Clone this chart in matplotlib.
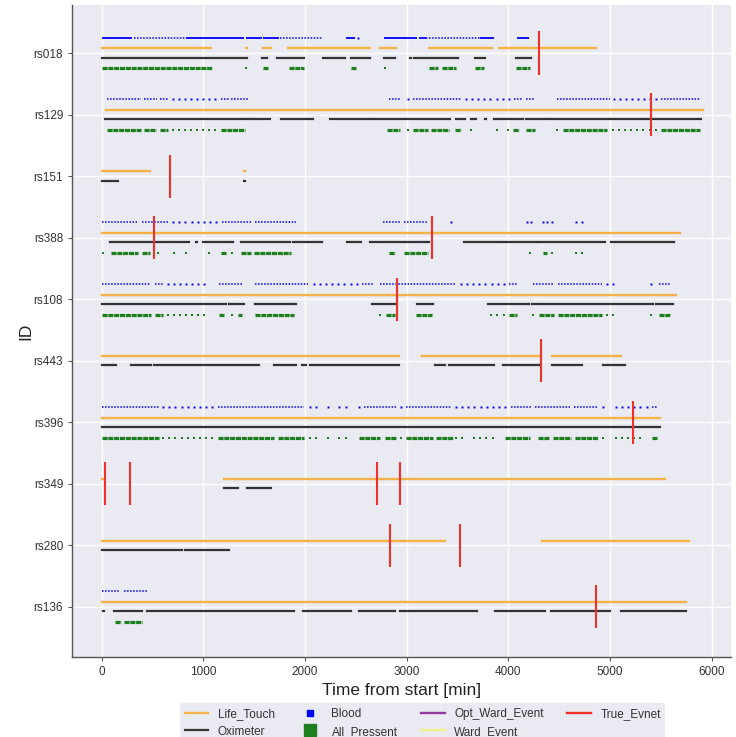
import matplotlib
matplotlib.use("Agg")
import matplotlib.pyplot as plt
from matplotlib.lines import Line2D

plt.rcParams['font.family'] = ['Liberation Sans', 'DejaVu Sans']

# pacientes, de arriba hacia abajo
patients = ['rs018', 'rs129', 'rs151', 'rs388', 'rs108',
            'rs443', 'rs396', 'rs349', 'rs280', 'rs136']

# intervalos [min] de cada fuente
life_touch = {
    'rs018': [(0, 1075), (1420, 1430), (1583, 1668), (1829, 2640), (2742, 2890), (3215, 3835), (3907, 4858)],
    'rs129': [(40, 5910)],
    'rs151': [(0, 473), (1398, 1406)],
    'rs388': [(0, 5690)],
    'rs108': [(0, 5650)],
    'rs443': [(0, 2920), (3149, 4313), (4429, 5112)],
    'rs396': [(0, 5495)],
    'rs349': [(0, 20), (1202, 5537)],
    'rs280': [(0, 3379), (4326, 5778)],
    'rs136': [(0, 5745)],
}

oximeter = {
    'rs018': [(0, 1432), (1573, 1625), (1721, 1993), (2181, 2397), (2450, 2640), (2781, 2888),
              (3036, 3040), (3076, 3505), (3673, 3769), (4073, 4221)],
    'rs129': [(33, 1402), (1422, 1501), (1510, 1658), (1764, 2075), (2250, 2690), (2706, 3429),
              (3482, 3571), (3630, 3680), (3770, 3775), (3861, 4148), (4175, 4370), (4386, 5897)],
    'rs151': [(0, 164), (1398, 1406)],
    'rs388': [(10, 16), (79, 499), (516, 604), (621, 762), (778, 854), (930, 936), (998, 1133),
              (1149, 1248), (1264, 1287), (1318, 1322), (1341, 1345), (1369, 1855), (1878, 2167),
              (2410, 2552), (2634, 2755), (2781, 3224), (3564, 3940), (3950, 4280), (4290, 4947),
              (5013, 5627)],
    'rs108': [(0, 1222), (1255, 1304), (1314, 1396), (1511, 1829), (1839, 1911), (2550, 2555),
              (2660, 2897), (3100, 3257), (3795, 4205), (4231, 4274), (4287, 5419), (5452, 5617)],
    'rs443': [(0, 138), (292, 489), (516, 1543), (1691, 1911), (1967, 2010), (2049, 2920),
              (3130, 3134), (3189, 3193), (3239, 3243), (3274, 3380), (3416, 3861), (3950, 4313),
              (4429, 4726), (4889, 4893), (4931, 5145)],
    'rs396': [(0, 5495)],
    'rs349': [(1202, 1345), (1428, 1664)],
    'rs280': [(0, 790), (823, 1248), (1320, 1325)],
    'rs136': [(10, 18), (120, 393), (444, 1895), (1978, 2454), (2528, 2889), (2935, 3688),
              (3873, 4145), (4165, 4360), (4415, 4997), (5104, 5615), (5632, 5745)],
}

# Blood: tramos densos, tramos punteados y muestras sueltas
blood_dense = {
    'rs018': [(0, 300), (828, 1402), (1419, 1576), (1590, 1740), (2404, 2493), (2781, 3099),
              (3125, 3185), (3720, 3861), (4089, 4205)],
}

blood_dotted = {
    'rs018': [(318, 828), (1754, 2164), (3191, 3720)],
    'rs129': [(56, 384), (417, 548), (575, 657), (1176, 1254), (1271, 1435), (2821, 2946),
              (3059, 3531), (4059, 4132), (4175, 4257), (4478, 5000), (5502, 5889)],
    'rs388': [(7, 342), (394, 657), (1182, 1475), (1507, 1911), (2765, 2930), (2975, 3208)],
    'rs108': [(0, 483), (522, 598), (1149, 1379), (1507, 2026), (2562, 2667), (2742, 3472),
              (4010, 4082), (4247, 4452), (4485, 4924), (5478, 5594)],
    'rs396': [(0, 565), (1140, 1993), (2575, 2897), (2995, 3439), (4023, 4221), (4264, 4610),
              (4650, 4874), (5409, 5462)],
    'rs136': [(0, 180), (222, 444)],
}

blood_points = {
    'rs018': [2519],
    'rs129': [696, 755, 818, 877, 936, 998, 1057, 1117, 3011, 3581, 3640, 3703, 3762, 3822,
              3884, 3944, 4007, 5039, 5099, 5158, 5218, 5277, 5337, 5396, 5456],
    'rs388': [703, 762, 821, 883, 943, 1002, 1064, 1123, 3432, 4181, 4224, 4340, 4379, 4429,
              4667, 4726],
    'rs108': [647, 706, 768, 828, 887, 949, 1008, 2085, 2148, 2207, 2266, 2328, 2387, 2447,
              2509, 3531, 3591, 3653, 3713, 3772, 3835, 3894, 3957, 4973, 5033, 5402],
    'rs396': [604, 663, 722, 785, 844, 903, 966, 1025, 1084, 2049, 2108, 2223, 2338, 2404,
              2529, 2946, 3488, 3548, 3604, 3663, 3726, 3785, 3845, 3908, 3967, 4931, 5056,
              5115, 5178, 5237, 5297, 5360],
}

# All_Pressent: tramos y muestras sueltas
all_present = {
    'rs018': [(0, 1080), (1583, 1632), (1839, 1993), (2455, 2505), (3224, 3307), (3343, 3488),
              (3676, 3762), (4079, 4214)],
    'rs129': [(56, 384), (417, 532), (575, 654), (1172, 1409), (2808, 2929), (3059, 3208),
              (3241, 3416), (3479, 3531), (4049, 4105), (4175, 4264), (4534, 4973), (5502, 5889)],
    'rs388': [(95, 358), (400, 473), (1172, 1222), (1369, 1468), (1501, 1862), (2821, 2880),
              (2972, 3208), (4340, 4379)],
    'rs108': [(0, 483), (522, 598), (1149, 1199), (1337, 1379), (1507, 1895), (2798, 2880),
              (3092, 3248), (4010, 4082), (4297, 4452), (4485, 4924), (5478, 5594)],
    'rs396': [(0, 565), (1140, 1698), (1731, 1993), (2529, 2742), (2788, 2890), (2995, 3257),
              (3290, 3455), (3967, 4214), (4290, 4396), (4439, 4617), (4653, 4881), (5409, 5462)],
    'rs136': [(129, 185), (217, 393)],
}

all_present_points = {
    'rs018': [1419, 2785],
    'rs129': [696, 755, 818, 877, 936, 998, 1057, 1117, 3011, 3637, 3884, 4000, 4478, 5029,
              5089, 5148, 5210, 5270, 5329, 5390, 5451],
    'rs388': [13, 555, 706, 828, 1057, 1281, 4214, 4429, 4667, 4726],
    'rs108': [647, 706, 768, 828, 887, 949, 1008, 1281, 2742, 3825, 3891, 3957, 4247, 4973,
              5033, 5402],
    'rs396': [604, 663, 722, 785, 844, 903, 966, 1025, 1084, 2049, 2108, 2223, 2338, 2404,
              2946, 3488, 3548, 3660, 3719, 3779, 3845, 4931, 5056, 5115, 5178, 5237, 5297],
}

true_events = {
    'rs018': [4300], 'rs129': [5402], 'rs151': [676], 'rs388': [516, 3248],
    'rs108': [2903], 'rs443': [4320], 'rs396': [5224], 'rs349': [28, 273, 2704, 2935],
    'rs280': [2833, 3527], 'rs136': [4860],
}

c_lt = '#F5B247'
c_oxi = '#333333'
c_blood = '#0000FF'
c_all = '#1E7F1E'
c_red = '#F2302A'

fig = plt.figure(figsize=(7.36, 7.37), dpi=100)
ax = fig.add_axes([0.0982, 0.1081, 0.8950, 0.8851])
ax.set_facecolor('#EAEAF2')

n = len(patients)
for i, p in enumerate(patients):
    y = n - 1 - i
    segs = life_touch.get(p, [])
    if segs:
        ax.hlines([y + 0.075] * len(segs), [s for s, _ in segs], [e for _, e in segs],
                  color=c_lt, lw=1.7, capstyle='projecting', zorder=3)
    segs = oximeter.get(p, [])
    if segs:
        ax.hlines([y - 0.075] * len(segs), [s for s, _ in segs], [e for _, e in segs],
                  color=c_oxi, lw=1.6, capstyle='projecting', zorder=3)
    segs = blood_dense.get(p, [])
    if segs:
        ax.hlines([y + 0.25] * len(segs), [s for s, _ in segs], [e for _, e in segs],
                  color=c_blood, lw=1.3, zorder=3)
    segs = blood_dotted.get(p, [])
    if segs:
        ax.hlines([y + 0.25] * len(segs), [s for s, _ in segs], [e for _, e in segs],
                  color=c_blood, lw=1.1, linestyles=(0, (1, 1.0)), zorder=3)
    pts = blood_points.get(p, [])
    if pts:
        ax.plot(pts, [y + 0.25] * len(pts), ls='', marker='s', ms=1.4, mew=0,
                color=c_blood, zorder=3)
    segs = all_present.get(p, [])
    if segs:
        ax.hlines([y - 0.25] * len(segs), [s for s, _ in segs], [e for _, e in segs],
                  color=c_all, lw=2.3, linestyles=(0, (1.6, 0.22)), zorder=3)
    pts = all_present_points.get(p, [])
    if pts:
        ax.plot(pts, [y - 0.25] * len(pts), ls='', marker='s', ms=2.0, mew=0,
                color=c_all, zorder=3)
    ev = true_events.get(p, [])
    if ev:
        ax.vlines(ev, y - 0.35, y + 0.35, color=c_red, lw=1.5, zorder=4)

ax.set_xlim(-290, 6190)
ax.set_ylim(-0.82, 9.78)
ax.set_yticks(range(n))
ax.set_yticklabels(patients[::-1])
ax.set_xticks([0, 1000, 2000, 3000, 4000, 5000, 6000])
ax.tick_params(labelsize=8.5, colors='#333333', length=3, width=0.8, color='#555555')
ax.grid(True, color='white', lw=1.0)
ax.set_axisbelow(True)
for side in ['top', 'right']:
    ax.spines[side].set_visible(False)
for side in ['left', 'bottom']:
    ax.spines[side].set_color('#555555')
    ax.spines[side].set_linewidth(1.0)

ax.set_xlabel('Time from start [min]', fontsize=12.5, color='#222222', labelpad=3)
ax.set_ylabel('ID', fontsize=12.5, color='#222222', labelpad=0)

handles = [
    Line2D([], [], color=c_lt, lw=1.7),
    Line2D([], [], color=c_oxi, lw=1.6),
    Line2D([], [], color=c_blood, ls='', marker='s', ms=5),
    Line2D([], [], color=c_all, ls='', marker='s', ms=9),
    Line2D([], [], color='#8E3A9E', lw=1.7),
    Line2D([], [], color='#F4F08A', lw=1.7),
    Line2D([], [], color=c_red, lw=1.7),
]
labels = ['Life_Touch', 'Oximeter', 'Blood', 'All_Pressent',
          'Opt_Ward_Event', 'Ward_Event', 'True_Evnet']
leg = ax.legend(handles, labels, ncol=4, loc='upper center', bbox_to_anchor=(0.532, -0.07),
                fontsize=8.5, frameon=True, facecolor='#EAEAF2', edgecolor='none',
                framealpha=1, borderaxespad=0)
for t in leg.get_texts():
    t.set_color('#333333')

fig.savefig('out.png', dpi=100)
